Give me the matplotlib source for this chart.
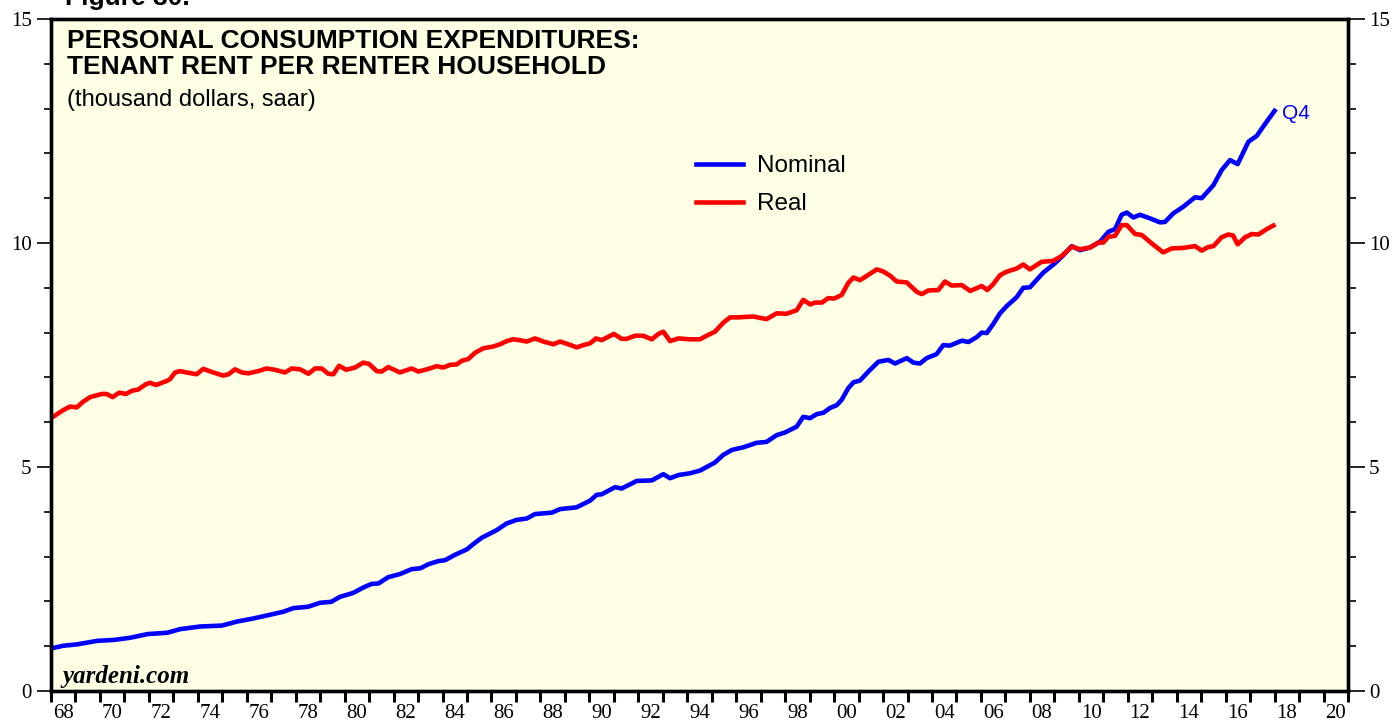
import numpy as np
import matplotlib
matplotlib.use("Agg")
import matplotlib.pyplot as plt

# tenant rent per renter household, thousand dollars (saar)
nominal_dates = [1968.0, 1968.5, 1969.05, 1969.9, 1970.57, 1971.25, 1971.94, 1972.75, 1973.27, 1974.1,
                 1974.98, 1975.6, 1976.28, 1977.1, 1977.5, 1977.9, 1978.5, 1979.0, 1979.45, 1979.8,
                 1980.35, 1980.76, 1981.1, 1981.38, 1981.78, 1982.26, 1982.74, 1983.1, 1983.42, 1983.83,
                 1984.1, 1984.51, 1984.99, 1985.26, 1985.6, 1986.21, 1986.62, 1987.03, 1987.44, 1987.78,
                 1988.46, 1988.8, 1989.48, 1990.03, 1990.3, 1990.5, 1991.05, 1991.32, 1991.94, 1992.55,
                 1993.02, 1993.3, 1993.64, 1994.11, 1994.52, 1995.13, 1995.47, 1995.82, 1996.29, 1996.84,
                 1997.24, 1997.65, 1997.99, 1998.47, 1998.74, 1999.02, 1999.29, 1999.56, 1999.84, 2000.11,
                 2000.31, 2000.58, 2000.79, 2001.06, 2001.4, 2001.81, 2002.22, 2002.49, 2002.97, 2003.24,
                 2003.51, 2003.78, 2004.19, 2004.46, 2004.73, 2005.22, 2005.49, 2005.83, 2006.03, 2006.24,
                 2006.5, 2006.78, 2007.05, 2007.46, 2007.73, 2008.0, 2008.55, 2009.03, 2009.37, 2009.71,
                 2010.05, 2010.46, 2010.87, 2011.21, 2011.48, 2011.75, 2011.96, 2012.23, 2012.5, 2012.91,
                 2013.32, 2013.52, 2013.86, 2014.27, 2014.75, 2015.02, 2015.5, 2015.84, 2016.18, 2016.49,
                 2016.93, 2017.27, 2017.68, 2018.0]
nominal = [0.95, 1.01, 1.04, 1.12, 1.14, 1.19, 1.27, 1.30, 1.38, 1.44,
           1.46, 1.55, 1.62, 1.72, 1.77, 1.85, 1.88, 1.97, 1.99, 2.10,
           2.19, 2.31, 2.39, 2.40, 2.54, 2.61, 2.72, 2.74, 2.83, 2.90,
           2.92, 3.04, 3.16, 3.28, 3.42, 3.59, 3.74, 3.82, 3.85, 3.95,
           3.98, 4.06, 4.10, 4.25, 4.38, 4.39, 4.55, 4.52, 4.69, 4.70,
           4.84, 4.75, 4.82, 4.86, 4.92, 5.10, 5.27, 5.38, 5.44, 5.54,
           5.56, 5.71, 5.77, 5.90, 6.12, 6.09, 6.18, 6.21, 6.32, 6.38,
           6.50, 6.76, 6.89, 6.93, 7.13, 7.35, 7.39, 7.31, 7.43, 7.33,
           7.31, 7.43, 7.52, 7.72, 7.71, 7.82, 7.79, 7.90, 8.00, 7.99,
           8.19, 8.43, 8.59, 8.79, 9.00, 9.01, 9.34, 9.55, 9.73, 9.93,
           9.84, 9.90, 10.03, 10.25, 10.31, 10.63, 10.68, 10.57, 10.63, 10.55,
           10.46, 10.47, 10.66, 10.81, 11.02, 11.00, 11.29, 11.63, 11.85, 11.76,
           12.26, 12.39, 12.71, 12.95]

real_dates = [1968.0, 1968.5, 1968.78, 1969.05, 1969.32, 1969.6, 1970.07, 1970.27, 1970.52, 1970.79,
              1971.06, 1971.3, 1971.57, 1971.88, 1972.05, 1972.29, 1972.73, 1972.86, 1973.07, 1973.27,
              1973.55, 1973.95, 1974.22, 1974.63, 1975.04, 1975.25, 1975.52, 1975.8, 1976.06, 1976.47,
              1976.81, 1977.15, 1977.56, 1977.84, 1978.18, 1978.52, 1978.79, 1979.06, 1979.33, 1979.54,
              1979.77, 1980.06, 1980.42, 1980.76, 1981.0, 1981.31, 1981.51, 1981.78, 1982.26, 1982.74,
              1983.01, 1983.42, 1983.76, 1984.03, 1984.31, 1984.58, 1984.78, 1985.05, 1985.33, 1985.67,
              1986.08, 1986.35, 1986.62, 1986.89, 1987.17, 1987.44, 1987.78, 1988.12, 1988.53, 1988.8,
              1989.14, 1989.48, 1989.75, 1990.03, 1990.27, 1990.5, 1991.0, 1991.32, 1991.52, 1991.87,
              1992.2, 1992.55, 1992.82, 1993.02, 1993.3, 1993.64, 1994.11, 1994.52, 1994.79, 1995.13,
              1995.47, 1995.75, 1996.09, 1996.7, 1997.24, 1997.65, 1998.06, 1998.47, 1998.74, 1999.02,
              1999.22, 1999.5, 1999.76, 2000.0, 2000.31, 2000.58, 2000.79, 2001.06, 2001.4, 2001.74,
              2001.99, 2002.29, 2002.56, 2002.97, 2003.38, 2003.58, 2003.85, 2004.26, 2004.53, 2004.8,
              2005.22, 2005.56, 2006.03, 2006.26, 2006.5, 2006.78, 2007.05, 2007.46, 2007.73, 2008.0,
              2008.48, 2008.95, 2009.3, 2009.71, 2010.05, 2010.46, 2010.8, 2011.0, 2011.21, 2011.48,
              2011.75, 2011.96, 2012.3, 2012.57, 2012.98, 2013.45, 2013.8, 2014.26, 2014.75, 2015.02,
              2015.29, 2015.5, 2015.84, 2016.11, 2016.3, 2016.49, 2016.8, 2017.07, 2017.34, 2017.68,
              2017.95]
real = [6.09, 6.27, 6.35, 6.33, 6.46, 6.56, 6.63, 6.63, 6.56, 6.66,
        6.63, 6.70, 6.73, 6.85, 6.88, 6.83, 6.92, 6.96, 7.11, 7.14,
        7.11, 7.07, 7.19, 7.11, 7.04, 7.07, 7.18, 7.11, 7.09, 7.14,
        7.20, 7.17, 7.11, 7.20, 7.18, 7.08, 7.20, 7.20, 7.08, 7.07,
        7.26, 7.17, 7.22, 7.33, 7.30, 7.14, 7.13, 7.23, 7.11, 7.20,
        7.13, 7.19, 7.25, 7.22, 7.28, 7.29, 7.37, 7.41, 7.55, 7.65,
        7.69, 7.74, 7.81, 7.85, 7.83, 7.80, 7.87, 7.80, 7.74, 7.80,
        7.74, 7.67, 7.72, 7.76, 7.87, 7.83, 7.97, 7.86, 7.86, 7.93,
        7.93, 7.85, 7.97, 8.02, 7.81, 7.87, 7.85, 7.85, 7.93, 8.02,
        8.22, 8.34, 8.34, 8.36, 8.30, 8.43, 8.42, 8.50, 8.73, 8.63,
        8.67, 8.67, 8.77, 8.76, 8.84, 9.11, 9.23, 9.17, 9.29, 9.41,
        9.37, 9.27, 9.14, 9.12, 8.91, 8.86, 8.94, 8.95, 9.14, 9.05,
        9.06, 8.93, 9.04, 8.95, 9.08, 9.28, 9.36, 9.43, 9.52, 9.41,
        9.58, 9.60, 9.71, 9.92, 9.86, 9.90, 10.01, 10.01, 10.14, 10.16,
        10.40, 10.40, 10.20, 10.18, 9.99, 9.79, 9.88, 9.89, 9.93, 9.83,
        9.91, 9.93, 10.13, 10.19, 10.17, 9.97, 10.13, 10.20, 10.19, 10.31,
        10.39]

year_labels = ['68', '70', '72', '74', '76', '78', '80', '82', '84', '86', '88', '90', '92',
               '94', '96', '98', '00', '02', '04', '06', '08', '10', '12', '14', '16', '18', '20']
y_ticks = [0, 5, 10, 15]

serif = 'Liberation Serif'
sans = 'Liberation Sans'

fig = plt.figure(figsize=(13.94, 7.21), dpi=100)
ax = fig.add_axes([51/1394, 1 - 691/721, 1297/1394, 672/721])
ax.set_facecolor('#ffffe6')

ax.plot(nominal_dates, nominal, color='#0000ff', lw=3.3, label='Nominal', solid_joinstyle='round')
ax.plot(real_dates, real, color='#ff0000', lw=3.3, label='Real', solid_joinstyle='round')

ax.set_xlim(1968, 2021)
ax.set_ylim(0, 15)

for s in ax.spines.values():
    s.set_linewidth(2.4)

# year ticks at boundaries, labels centred mid-year
ax.set_xticks(np.arange(1968, 2022))
ax.set_xticklabels([])
ax.set_xticks([1968.5 + 2*i for i in range(len(year_labels))], minor=True)
ax.set_xticklabels(year_labels, minor=True, fontsize=15, family=serif)
ax.tick_params(axis='x', which='major', direction='out', length=8, width=2.2)
ax.tick_params(axis='x', which='minor', length=0, pad=9)

ax.set_yticks(y_ticks)
ax.set_yticks(np.arange(0, 16), minor=True)
ax.set_yticklabels([str(v) for v in y_ticks], fontsize=15, family=serif)
ax.tick_params(axis='y', which='major', direction='out', length=10, width=1.2, pad=4)
ax.tick_params(axis='y', which='minor', direction='out', length=5, width=1.2)

ax2 = ax.twinx()
ax2.set_ylim(0, 15)
ax2.set_yticks(y_ticks)
ax2.set_yticks(np.arange(0, 16), minor=True)
ax2.set_yticklabels([str(v) for v in y_ticks], fontsize=15, family=serif)
ax2.tick_params(axis='y', which='major', direction='out', length=12, width=1.2, pad=3)
ax2.tick_params(axis='y', which='minor', direction='out', length=6, width=1.2)
for s in ax2.spines.values():
    s.set_linewidth(2.4)

ax.text(16/1297, 1 - 10/672, 'PERSONAL CONSUMPTION EXPENDITURES:\nTENANT RENT PER RENTER HOUSEHOLD',
        transform=ax.transAxes, ha='left', va='top', fontsize=19, fontweight='bold',
        family=sans, linespacing=1.1)
ax.text(16/1297, 1 - 70/672, '(thousand dollars, saar)', transform=ax.transAxes,
        ha='left', va='top', fontsize=17, family=sans)

ax.text(nominal_dates[-1] + 0.3, nominal[-1] - 0.06, 'Q4', color='#0000ff', fontsize=15,
        family=sans, ha='left', va='center')

ax.text(12/1297, 8/672, 'yardeni.com', transform=ax.transAxes, ha='left', va='baseline',
        fontsize=18, fontweight='bold', fontstyle='italic', family=serif)

fig.text(65/1394, 1 - 5/721, 'Figure 30.', ha='left', va='baseline', fontsize=19,
         fontweight='bold', family=sans)

ax.legend(loc='upper left', bbox_to_anchor=(645/1297, 1 - 136/672), frameon=False,
          prop={'family': sans, 'size': 17.5}, handlelength=1.95, handletextpad=0.55,
          labelspacing=0.66, borderpad=0, borderaxespad=0)

fig.savefig('out.png', dpi=100)
